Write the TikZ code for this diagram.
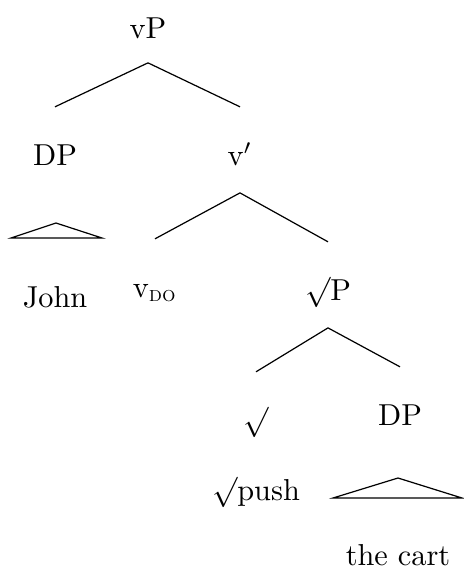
\documentclass[tikz,border=0pt]{standalone}
\usepackage{amsmath,amssymb}
\usepackage{tikz}
\usetikzlibrary{positioning}
\tikzset{
  cat/.style={anchor=base,inner sep=0pt,text height=19pt,text depth=9pt},
  leaf/.style={anchor=base,inner sep=0pt},
  branch/.style={line width=.4pt,draw=black},
  roof/.style={branch,line join=miter}
}

\begin{document}
\begin{tikzpicture}[x=.33pt,y=-.33pt]
    \useasboundingbox (0,0) rectangle (464,579);
    \node[cat,text depth=8pt] (vp) at (148,38) {vP};
    \node[cat] (dp) at (55,165) {DP};
    \node[cat] (vbar) at (240,165) {v$'$};
    \node[leaf] (john) at (55,307) {John};
    \node[cat] (vdo) at (155,297) {v$_{\textsc{do}}$};
    \node[cat] (rp) at (328,300) {$\surd$P};
    \node[cat] (root) at (256,430) {$\surd$};
    \node[cat] (dp2) at (400,425) {DP};
    \node[leaf] (push) at (256,500) {$\surd$push};
    \node[leaf] (cart) at (398,565) {the cart};
    \coordinate (roofj) at (56,223);
    \coordinate (roofc) at (398,478);
    \draw[branch] (vp.south)--(dp.north);
    \draw[branch] (vp.south)--(vbar.north);
    \draw[branch] (vbar.south)--(vdo.north);
    \draw[branch] (vbar.south)--(rp.north);
    \draw[branch] (rp.south)--(root.north);
    \draw[branch] (rp.south)--(dp2.north);
    \draw[roof] (roofj)--++(-45,15)--++(91,0)--cycle;
    \draw[roof] (roofc)--++(-65,20)--++(129,0)--cycle;
  \end{tikzpicture}
\end{document}
